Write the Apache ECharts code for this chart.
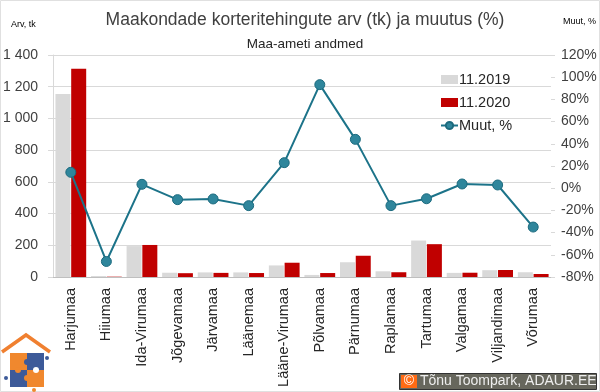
<!DOCTYPE html>
<html><head><meta charset="utf-8">
<script src="https://cdn.jsdelivr.net/npm/echarts@6/dist/echarts.min.js"></script>
<style>html,body{margin:0;padding:0;background:#fff}#c{width:600px;height:392px}</style>
</head><body><div id="c"></div>
<script>
const categories = ['Harjumaa','Hiiumaa','Ida-Virumaa','Jõgevamaa','Järvamaa','Läänemaa','Lääne-Virumaa','Põlvamaa','Pärnumaa','Raplamaa','Tartumaa','Valgamaa','Viljandimaa','Võrumaa'];
const values2019 = [1154, 6, 195, 27, 29, 29, 73, 13, 93, 36, 230, 26, 43, 30];
const values2020 = [1314, 2, 202, 24, 26, 25, 90, 25, 134, 30, 207, 27, 44, 19];
const changePct = [14.3, -66, 3.5, -10.3, -9.7, -15.7, 23, 93.3, 44, -15.7, -9.5, 3.8, 2.9, -35];
const leftTicks = [0, 200, 400, 600, 800, 1000, 1200, 1400];
const rightTicks = [-80, -60, -40, -20, 0, 20, 40, 60, 80, 100, 120];

const FONT = '"Liberation Sans", Arial, sans-serif';
const chart = echarts.init(document.getElementById('c'), null, {renderer: 'canvas'});
const fmtThousands = v => String(v).replace(/\B(?=(\d{3})+(?!\d))/g, ' ');

chart.setOption({
  animation: false,
  textStyle: {fontFamily: FONT},
  title: [
    {text: 'Maakondade korteritehingute arv (tk) ja muutus (%)', left: 300, textAlign: 'center', top: 6,
     textStyle: {fontFamily: FONT, fontSize: 17.5, fontWeight: 'normal', color: '#404040'}},
    {text: 'Maa-ameti andmed', left: 300, textAlign: 'center', top: 32,
     textStyle: {fontFamily: FONT, fontSize: 13.5, fontWeight: 'normal', color: '#262626'}},
    {text: 'Arv, tk', left: 6, top: 15, textStyle: {fontFamily: FONT, fontSize: 9, fontWeight: 'normal', color: '#000'}},
    {text: 'Muut, %', left: 558, top: 12, textStyle: {fontFamily: FONT, fontSize: 9, fontWeight: 'normal', color: '#000'}}
  ],
  legend: {
    orient: 'vertical', left: 440, top: 72, padding: 0, itemGap: 8, itemWidth: 17, itemHeight: 9,
    textStyle: {fontFamily: FONT, fontSize: 14.5, color: '#262626', padding: [0,0,0,-4]},
    data: [
      {name: '11.2019', icon: 'rect'},
      {name: '11.2020', icon: 'rect'},
      {name: 'Muut, %'}
    ]
  },
  grid: {left: 53, right: 49, top: 55, bottom: 115, containLabel: false},
  xAxis: {
    type: 'category', data: categories,
    axisLine: {lineStyle: {color: '#bfbfbf'}},
    axisTick: {show: false},
    axisLabel: {rotate: 90, margin: 11, fontSize: 14.5, color: '#262626', fontFamily: FONT}
  },
  yAxis: [
    {type: 'value', min: 0, max: 1400, interval: 200,
     axisLine: {show: true, lineStyle: {color: '#d9d9d9'}},
     axisTick: {show: true, length: 5, lineStyle: {color: '#d9d9d9'}},
     splitLine: {lineStyle: {color: '#d9d9d9'}},
     axisLabel: {margin: 15, fontSize: 14, color: '#404040', fontFamily: FONT, formatter: fmtThousands}},
    {type: 'value', min: -80, max: 120, interval: 20, position: 'right',
     axisLine: {show: false},
     axisTick: {show: true, length: 4, lineStyle: {color: '#d9d9d9'}},
     splitLine: {show: false},
     axisLabel: {margin: 10, fontSize: 14, color: '#404040', fontFamily: FONT, formatter: v => v + '%'}}
  ],
  series: [
    {name: '11.2019', type: 'bar', data: values2019, barWidth: 15, barGap: '5%', itemStyle: {color: '#d9d9d9'}},
    {name: '11.2020', type: 'bar', data: values2020, barWidth: 15, itemStyle: {color: '#c00000'}},
    {name: 'Muut, %', type: 'line', yAxisIndex: 1, data: changePct, symbol: 'circle', symbolSize: 10,
     lineStyle: {color: '#1c7389', width: 2},
     itemStyle: {color: '#2f869c', borderColor: '#1c6a7e', borderWidth: 1}}
  ],
  graphic: [
    {type: 'rect', shape: {x: 0.5, y: 0.5, width: 599, height: 391}, style: {fill: 'none', stroke: '#e0e0e0'}, silent: true, z: -1},
    // logo
    {type: 'polyline', shape: {points: [[2, 352], [26, 335], [50, 352]]}, style: {stroke: '#f08030', lineWidth: 3.5, fill: 'none'}},
    {type: 'rect', shape: {x: 10, y: 353, width: 17, height: 17}, style: {fill: '#f0882e'}},
    {type: 'rect', shape: {x: 27, y: 353, width: 17, height: 17}, style: {fill: '#3d5a99'}},
    {type: 'rect', shape: {x: 10, y: 370, width: 17, height: 17}, style: {fill: '#3d5a99'}},
    {type: 'rect', shape: {x: 27, y: 370, width: 17, height: 17}, style: {fill: '#f0882e'}},
    {type: 'circle', shape: {cx: 27, cy: 362, r: 3}, style: {fill: '#3d5a99'}},
    {type: 'circle', shape: {cx: 27, cy: 378, r: 3}, style: {fill: '#f0882e'}},
    {type: 'circle', shape: {cx: 18, cy: 370, r: 3}, style: {fill: '#f0882e'}},
    {type: 'circle', shape: {cx: 36, cy: 370, r: 3}, style: {fill: '#fff'}},
    {type: 'circle', shape: {cx: 6, cy: 378, r: 2}, style: {fill: '#3d5a99'}},
    {type: 'circle', shape: {cx: 47, cy: 358, r: 2}, style: {fill: '#3d5a99'}},
    {type: 'circle', shape: {cx: 34, cy: 390, r: 2}, style: {fill: '#f0882e'}},
    // copyright box
    {type: 'rect', shape: {x: 399.5, y: 373.5, width: 197, height: 16}, style: {fill: '#67675d', stroke: '#333', lineWidth: 1}},
    {type: 'rect', shape: {x: 401, y: 375, width: 16, height: 13}, style: {fill: '#ff6a13'}},
    {type: 'text', style: {x: 409, y: 381.5, text: '©', fill: '#fff', font: '14px ' + FONT, textAlign: 'center', textVerticalAlign: 'middle'}},
    {type: 'text', style: {x: 420, y: 381.5, text: 'Tõnu Toompark, ADAUR.EE', fill: '#eeeeee', font: '14px ' + FONT, textVerticalAlign: 'middle'}}
  ]
});
</script></body></html>
